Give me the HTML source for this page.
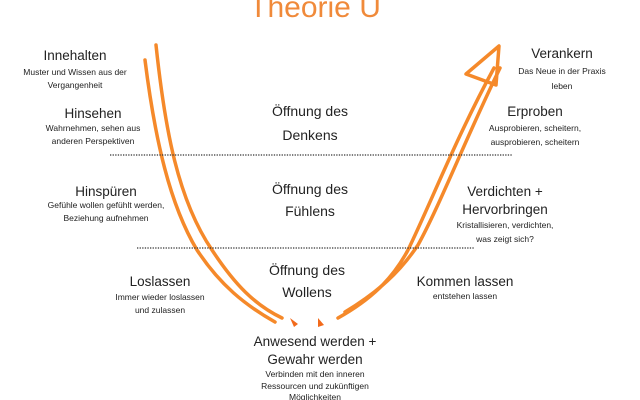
<!DOCTYPE html>
<html><head><meta charset="utf-8"><style>
body{margin:0;background:#fff}
svg{display:block}
text{font-family:"Liberation Sans","DejaVu Sans",sans-serif;fill:#222;text-anchor:middle}
.h{font-size:13.5px}
.s{font-size:8.5px}
.m{font-size:14px}
</style></head><body>
<svg width="640" height="400" viewBox="0 0 640 400">
<text x="315" y="17" style="font-size:30px;fill:#f08a3a">Theorie U</text>
<g fill="none" stroke="#f5892a" stroke-width="3.5" stroke-linecap="round">
<path d="M156,45 C165,130 178,200 212,250 C235,285 255,305 282,318"/>
<path d="M145,60 C155,140 170,205 197,250 C220,285 245,305 275,322"/>
<path d="M338,318 C370,300 392,280 408,250 C430,205 455,140 494,68"/>
<path d="M345,312 C378,292 400,272 418,245 C440,205 465,140 500,68"/>
<path d="M466,74 L499,46 L496,85 Z" stroke-linejoin="round"/>
</g>
<path d="M290,318 l8,6 l-4,3 z M318,318 l6,7 l-6,2 z" fill="#f26a1b"/>
<line x1="110" y1="155" x2="513" y2="155" stroke="#333" stroke-width="1.3" stroke-dasharray="1.3,1.3"/>
<line x1="137" y1="248" x2="475" y2="248" stroke="#333" stroke-width="1.3" stroke-dasharray="1.3,1.3"/>
<text class="h" x="75" y="60">Innehalten</text>
<text class="s" x="75" y="75">Muster und Wissen aus der</text>
<text class="s" x="75" y="88">Vergangenheit</text>
<text class="h" x="93" y="118">Hinsehen</text>
<text class="s" x="93" y="131">Wahrnehmen, sehen aus</text>
<text class="s" x="93" y="144">anderen Perspektiven</text>
<text class="h" x="106" y="196">Hinspüren</text>
<text class="s" x="106" y="208">Gefühle wollen gefühlt werden,</text>
<text class="s" x="106" y="221">Beziehung aufnehmen</text>
<text class="h" x="160" y="286">Loslassen</text>
<text class="s" x="160" y="300">Immer wieder loslassen</text>
<text class="s" x="160" y="313">und zulassen</text>
<text class="m" x="310" y="116">Öffnung des</text>
<text class="m" x="310" y="140">Denkens</text>
<text class="m" x="310" y="194">Öffnung des</text>
<text class="m" x="310" y="216">Fühlens</text>
<text class="m" x="307" y="275">Öffnung des</text>
<text class="m" x="307" y="297">Wollens</text>
<text class="h" x="562" y="58">Verankern</text>
<text class="s" x="562" y="74">Das Neue in der Praxis</text>
<text class="s" x="562" y="89">leben</text>
<text class="h" x="535" y="116">Erproben</text>
<text class="s" x="535" y="131">Ausprobieren, scheitern,</text>
<text class="s" x="535" y="145">ausprobieren, scheitern</text>
<text class="h" x="505" y="196">Verdichten +</text>
<text class="h" x="505" y="214">Hervorbringen</text>
<text class="s" x="505" y="228">Kristallisieren, verdichten,</text>
<text class="s" x="505" y="242">was zeigt sich?</text>
<text class="h" x="465" y="286">Kommen lassen</text>
<text class="s" x="465" y="299">entstehen lassen</text>
<text class="h" x="315" y="346">Anwesend werden +</text>
<text class="h" x="315" y="364">Gewahr werden</text>
<text class="s" x="315" y="377">Verbinden mit den inneren</text>
<text class="s" x="315" y="389">Ressourcen und zukünftigen</text>
<text class="s" x="315" y="400">Möglichkeiten</text>
</svg>
</body></html>
